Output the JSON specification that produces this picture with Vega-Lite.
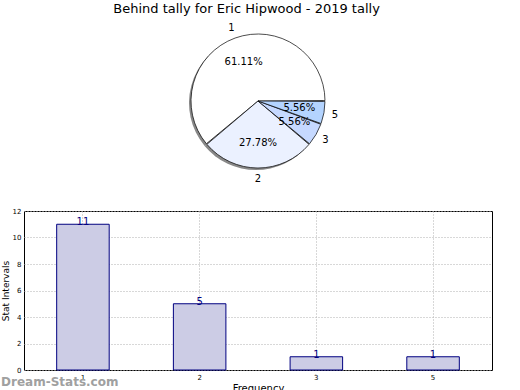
{
  "$schema": "https://vega.github.io/schema/vega-lite/v6.json",
  "padding": {"top": 3, "left": 0, "right": 0, "bottom": 0},
  "background": "white",
  "config": {"view": {"stroke": null}, "font": "DejaVu Sans", "concat": {"spacing": 20}},
  "title": {"text": "Behind tally for Eric Hipwood - 2019 tally", "fontSize": 13, "fontWeight": "normal", "font": "DejaVu Sans", "anchor": "middle", "offset": 0, "color": "black"},
  "datasets": {
    "pie": [
      {"cat": "1", "pct": 61.11, "o": 4, "label": "61.11%"},
      {"cat": "2", "pct": 27.78, "o": 3, "label": "27.78%"},
      {"cat": "3", "pct": 5.56, "o": 2, "label": "5.56%"},
      {"cat": "5", "pct": 5.56, "o": 1, "label": "5.56%"}
    ],
    "bars": [
      {"f": "1", "v": 11},
      {"f": "2", "v": 5},
      {"f": "3", "v": 1},
      {"f": "5", "v": 1}
    ]
  },
  "vconcat": [
    {
      "width": 468,
      "height": 170,
      "data": {"name": "pie"},
      "encoding": {
        "theta": {"field": "pct", "type": "quantitative", "stack": true, "scale": {"range": [1.5708, 7.854]}},
        "order": {"field": "o", "type": "quantitative", "sort": "ascending"}
      },
      "layer": [
        {"mark": {"type": "arc", "radius": 67, "xOffset": -2, "yOffset": 2, "fill": "#888888", "stroke": null}},
        {
          "mark": {"type": "arc", "radius": 67, "stroke": "black", "strokeWidth": 0.7, "padAngle": 0.012},
          "encoding": {"color": {"field": "cat", "type": "nominal", "legend": null, "scale": {"domain": ["1", "2", "3", "5"], "range": ["#ffffff", "#ebf1ff", "#c6d9ff", "#b4d4ff"]}}}
        },
        {
          "mark": {"type": "text", "radius": 42, "fontSize": 10, "color": "black"},
          "encoding": {"text": {"field": "label"}}
        },
        {
          "mark": {"type": "text", "radius": 78, "fontSize": 10, "color": "black"},
          "encoding": {"text": {"field": "cat"}}
        }
      ]
    },
    {
      "width": 468,
      "height": 159,
      "view": {"stroke": "black", "strokeWidth": 1},
      "data": {"name": "bars"},
      "title": {"text": "Dream-Stats.com", "orient": "bottom", "anchor": "start", "frame": "bounds", "color": "#a0a0a0", "fontSize": 12, "fontWeight": "bold", "offset": -16},
      "encoding": {
        "x": {"field": "f", "type": "nominal", "sort": null,
          "scale": {"paddingInner": 0.55, "paddingOuter": 0.28},
          "axis": {"labelAngle": 0, "title": "Frequency", "titleFontSize": 10, "titleFontWeight": "normal", "labelFontSize": 7, "grid": true, "gridDash": [1, 2], "gridColor": "#b0b0b0", "bandPosition": 0.5, "domain": false, "ticks": false, "labelPadding": 3, "titlePadding": 3, "labelColor": "black", "titleColor": "black"}},
        "y": {"field": "v", "type": "quantitative",
          "scale": {"domain": [0, 12], "nice": false},
          "axis": {"values": [0, 2, 4, 6, 8, 10, 12], "title": "Stat Intervals", "titleFontSize": 9, "titleFontWeight": "normal", "labelFontSize": 7, "grid": true, "gridDash": [1, 2], "gridColor": "#b0b0b0", "domain": false, "ticks": false, "labelPadding": 3, "titlePadding": 2, "labelColor": "black", "titleColor": "black"}}
      },
      "layer": [
        {"mark": {"type": "bar", "fill": "#ccccE5", "stroke": "#000080", "strokeWidth": 1}},
        {"mark": {"type": "text", "baseline": "bottom", "dy": 3, "fontSize": 10, "color": "#000080"}, "encoding": {"text": {"field": "v", "type": "quantitative"}}}
      ]
    }
  ]
}
